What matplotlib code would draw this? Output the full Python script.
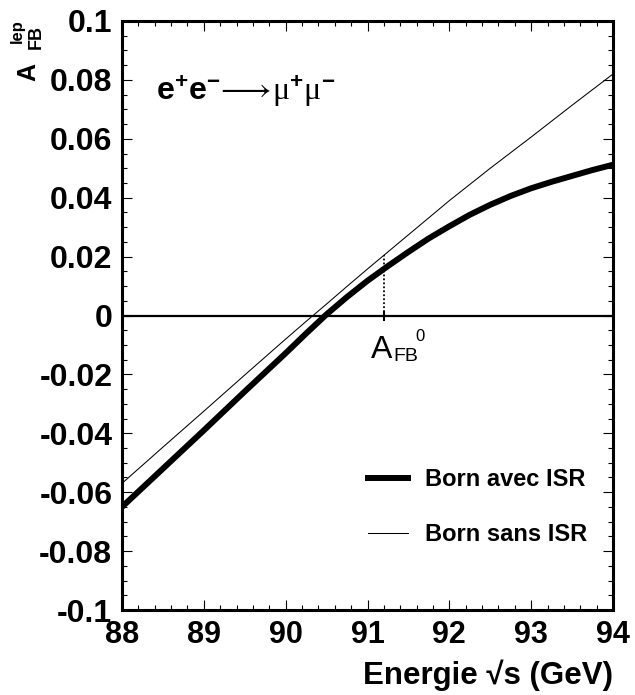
import numpy as np
import matplotlib
matplotlib.use("Agg")
import matplotlib.pyplot as plt
from matplotlib.ticker import MultipleLocator

# fonts: narrow bold for ticks if available, regular bold for the rest
narrow = ['Liberation Sans Narrow', 'Liberation Sans', 'DejaVu Sans']
sans = ['Liberation Sans', 'DejaVu Sans']
plt.rcParams['font.family'] = sans
plt.rcParams['mathtext.fontset'] = 'custom'
plt.rcParams['mathtext.rm'] = 'Liberation Serif'
plt.rcParams['mathtext.bf'] = 'Liberation Sans:bold'
plt.rcParams['mathtext.it'] = 'Liberation Sans:italic'

# data
energy = [88.0, 88.5, 89.0, 89.5, 90.0, 90.25, 90.5, 90.75, 91.0, 91.25, 91.5, 91.75,
          92.0, 92.25, 92.5, 92.75, 93.0, 93.25, 93.5, 93.75, 94.0]
afb_isr = [-0.0650, -0.0520, -0.0390, -0.0258, -0.0128, -0.0061, 0.0004, 0.0063,
           0.0118, 0.0168, 0.0216, 0.0262, 0.0303, 0.0342, 0.0376, 0.0406,
           0.0432, 0.0454, 0.0474, 0.0494, 0.0512]
afb_born = [-0.0570, -0.0447, -0.0325, -0.0202, -0.0080, -0.0020, 0.0039, 0.0099,
            0.0158, 0.0216, 0.0274, 0.0332, 0.0390, 0.0445, 0.0500, 0.0553,
            0.0606, 0.0660, 0.0714, 0.0767, 0.0820]
mz = 91.2
afb0 = 0.0205
labels = ['Born avec ISR', 'Born sans ISR']

fig = plt.figure(figsize=(6.35, 6.95), dpi=100)
ax = fig.add_axes([122/635, 85/695, 491/635, 589/695])

ax.plot(energy, afb_isr, color='black', lw=4.3, solid_joinstyle='round', label=labels[0])
ax.plot(energy, afb_born, color='black', lw=0.75, label=labels[1])

# zero line, dotted marker for A_FB^0
ax.axhline(0, color='black', lw=1.6)
ax.plot([mz, mz], [0, afb0], color='black', lw=1.3, ls=(0, (1, 1.2)))
ax.plot([mz], [0], marker='|', color='black', ms=7, mew=1.5)

ax.set_xlim(88, 94)
ax.set_ylim(-0.1, 0.1)
ax.xaxis.set_major_locator(MultipleLocator(1))
ax.xaxis.set_minor_locator(MultipleLocator(0.2))
ax.yaxis.set_major_locator(MultipleLocator(0.02))
ax.yaxis.set_minor_locator(MultipleLocator(0.005))
ax.tick_params(which='both', direction='in', top=True, right=True, width=0.8, color='black')
ax.tick_params(which='major', length=7, pad=7)
ax.tick_params(which='minor', length=3.5)
for sp in ax.spines.values():
    sp.set_linewidth(2.2)

ax.set_xticks([88, 89, 90, 91, 92, 93, 94])
ax.set_xticklabels(['88', '89', '90', '91', '92', '93', '94'])
yt = [-0.1, -0.08, -0.06, -0.04, -0.02, 0, 0.02, 0.04, 0.06, 0.08, 0.1]
ax.set_yticks(yt)
ax.set_yticklabels(['-0.1', '-0.08', '-0.06', '-0.04', '-0.02', '0',
                    '0.02', '0.04', '0.06', '0.08', '0.1'])
for t in ax.get_xticklabels():
    t.set_family(narrow)
    t.set_fontweight('bold')
    t.set_fontsize(22)
for t in ax.get_yticklabels():
    t.set_family(narrow)
    t.set_fontweight('bold')
    t.set_fontsize(23)

ax.set_xlabel('Energie \u221as (GeV)', loc='right', family=narrow, fontweight='bold',
              fontsize=22.5, labelpad=7)

# y label A_FB^lep built from pieces
fig.text(28/635, 1 - 72/695, 'A', rotation=90, ha='center', va='center',
         fontsize=18, fontweight='bold')
fig.text(36/635, 1 - 37/695, 'FB', rotation=90, ha='center', va='center',
         fontsize=13, fontweight='bold')
fig.text(17/635, 1 - 31/695, 'lep', rotation=90, ha='center', va='center',
         fontsize=12, fontweight='bold')

# process label
ax.text(0.07, 0.88,
        r'$\mathbf{e}^{\mathbf{+}}\mathbf{e}^{\mathbf{-}}\!\longrightarrow\!\mathrm{\mu}^{\mathbf{+}}\mathrm{\mu}^{\mathbf{-}}$',
        transform=ax.transAxes, fontsize=23, ha='left', va='center')

# A_FB^0 annotation
ax.text(mz - 0.03, -0.0065, 'A', family=narrow, fontsize=23, ha='center', va='top')
ax.text(mz + 0.12, -0.0110, 'FB', family=narrow, fontsize=14, ha='left', va='top')
ax.text(mz + 0.39, -0.0045, '0', family=narrow, fontsize=12, ha='left', va='top')

ax.legend(loc='upper left', bbox_to_anchor=(0.501, 0.241), frameon=False,
          prop={'family': sans, 'weight': 'bold', 'size': 17},
          handlelength=1.7, handletextpad=0.7, labelspacing=1.35, borderpad=0,
          borderaxespad=0)

fig.savefig('out.png', dpi=100)
